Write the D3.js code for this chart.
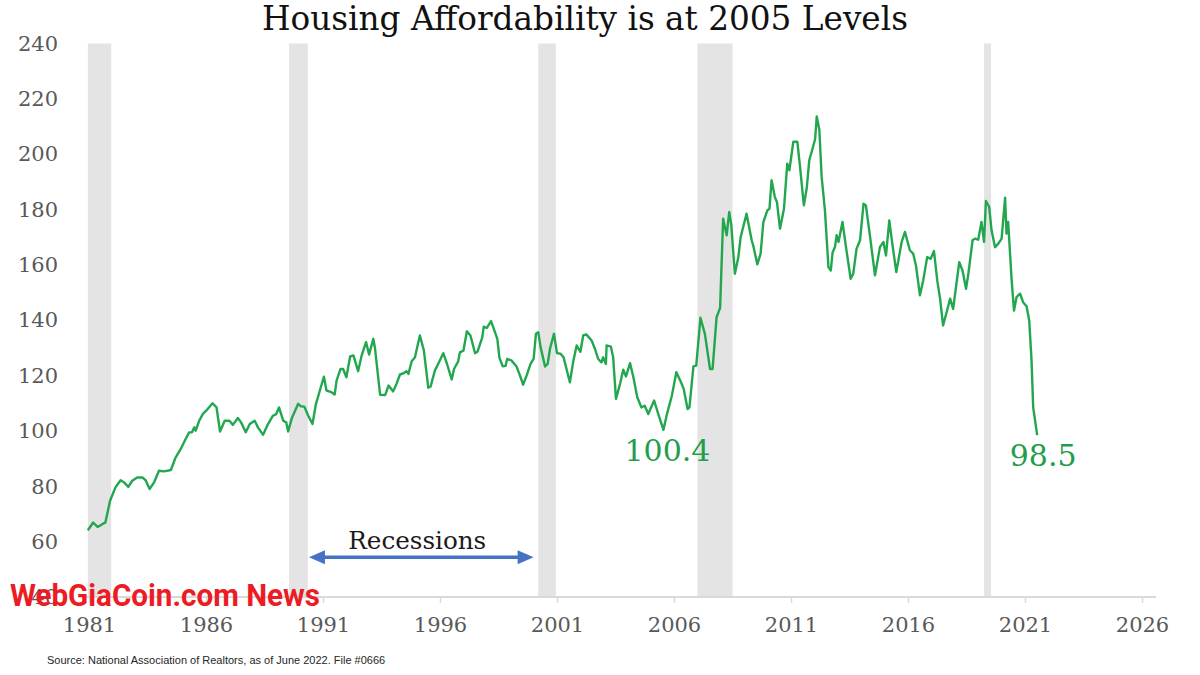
<!DOCTYPE html>
<html>
<head>
<meta charset="utf-8">
<script src="https://cdn.jsdelivr.net/npm/d3@7"></script>
<style>
  html, body { margin: 0; padding: 0; background: #fff; }
  svg { display: block; }
</style>
</head>
<body>
<svg id="chart" width="1200" height="675"></svg>
<script>
// ---------- DATA ----------
const title = "Housing Affordability is at 2005 Levels";
const sourceNote = "Source: National Association of Realtors, as of June 2022. File #0666";
const watermark = "WebGiaCoin.com News";

const yTicks = [40, 60, 80, 100, 120, 140, 160, 180, 200, 220, 240];
const xTicks = [1981, 1986, 1991, 1996, 2001, 2006, 2011, 2016, 2021, 2026];

// recession shading [start, end] in axis-year units (as drawn)
const recessions = [[1980.95, 1981.95], [1989.55, 1990.35], [2000.2, 2000.95], [2007.0, 2008.5], [2019.25, 2019.55]];

// Housing affordability index
const dates = [
 1980.95,1981.18,1981.37,1981.6,1981.7,1981.9,1982.13,1982.35,1982.5,1982.68,1982.85,1983.06,1983.28,1983.42,1983.59,1983.78,1983.99,
 1984.21,1984.5,1984.7,1984.92,1985.13,1985.28,1985.4,1985.5,1985.56,1985.71,1985.86,1986.07,1986.28,1986.45,1986.6,1986.8,1987.0,
 1987.15,1987.36,1987.5,1987.7,1987.87,1988.08,1988.22,1988.44,1988.65,1988.86,1989.0,1989.12,1989.3,1989.43,1989.51,1989.68,1989.94,
 1990.06,1990.2,1990.37,1990.55,1990.7,1990.9,1991.04,1991.15,1991.36,1991.5,1991.58,1991.75,1991.86,1992.0,1992.16,1992.3,1992.5,
 1992.65,1992.84,1992.97,1993.15,1993.22,1993.44,1993.66,1993.8,1994.0,1994.14,1994.29,1994.43,1994.57,1994.65,1994.79,1994.93,
 1995.14,1995.31,1995.5,1995.6,1995.78,1995.92,1996.14,1996.3,1996.5,1996.6,1996.78,1996.85,1997.0,1997.15,1997.3,1997.5,1997.6,
 1997.8,1997.87,1998.0,1998.18,1998.3,1998.45,1998.54,1998.68,1998.8,1998.87,1999.05,1999.27,1999.42,1999.55,1999.7,1999.87,2000.0,
 2000.1,2000.2,2000.3,2000.49,2000.6,2000.7,2000.87,2001.0,2001.15,2001.28,2001.55,2001.7,2001.84,2002.0,2002.12,2002.25,2002.48,
 2002.62,2002.76,2002.9,2002.97,2003.09,2003.12,2003.3,2003.4,2003.52,2003.7,2003.83,2003.95,2004.12,2004.26,2004.43,2004.61,2004.75,
 2004.9,2005.15,2005.33,2005.55,2005.7,2005.91,2006.1,2006.3,2006.42,2006.58,2006.66,2006.83,2006.95,2007.13,2007.32,2007.54,2007.65,
 2007.82,2007.97,2008.1,2008.25,2008.36,2008.45,2008.6,2008.75,2008.85,2009.1,2009.32,2009.4,2009.56,2009.7,2009.82,2009.99,2010.08,
 2010.17,2010.31,2010.4,2010.53,2010.7,2010.84,2010.93,2011.1,2011.27,2011.38,2011.55,2011.67,2011.78,2011.88,2012.03,2012.1,2012.21,
 2012.31,2012.45,2012.6,2012.7,2012.78,2012.88,2012.95,2013.03,2013.2,2013.35,2013.55,2013.66,2013.8,2013.95,2014.1,2014.2,2014.38,
 2014.59,2014.8,2014.95,2015.06,2015.2,2015.3,2015.5,2015.73,2015.87,2016.08,2016.22,2016.34,2016.51,2016.65,2016.82,2016.97,2017.11,
 2017.25,2017.37,2017.5,2017.67,2017.8,2017.93,2018.19,2018.33,2018.48,2018.58,2018.76,2018.86,2019.0,2019.14,2019.25,2019.33,2019.47,
 2019.57,2019.72,2019.86,2020.0,2020.15,2020.21,2020.28,2020.43,2020.53,2020.64,2020.79,2020.92,2021.07,2021.18,2021.28,2021.35,2021.52
];
const values = [
 64.1,66.9,65.3,66.5,66.9,74.8,79.6,82.2,81.4,79.8,82.0,83.2,83.2,82.2,79.0,81.4,85.6,
 85.4,85.9,90.4,93.5,97.1,99.5,99.5,101.3,100.1,103.7,106.1,107.9,110.0,108.5,99.8,103.7,103.7,
 102.2,104.7,103.1,99.5,102.5,103.7,101.3,98.6,102.5,105.5,106.1,108.5,103.7,103.1,99.8,104.9,109.8,
 108.9,108.8,105.5,102.5,109.8,115.6,119.6,114.6,114.0,113.2,118.2,122.4,122.4,119.4,126.9,127.3,121.6,
 127.2,132.1,127.6,133.3,130.0,113.1,113.0,116.4,114.3,117.0,120.4,120.8,121.6,120.6,125.2,126.6,
 134.5,129.1,115.6,116.1,121.8,124.2,128.1,124.2,118.6,122.4,125.2,128.4,129.0,136.0,134.5,128.1,128.6,
 133.6,137.7,137.2,139.7,136.9,133.3,126.4,123.4,123.5,126.0,125.5,123.3,120.0,116.7,120.0,124.2,126.0,
 135.1,135.7,130.2,123.3,124.2,129.7,135.1,128.1,127.9,126.6,117.6,125.4,130.9,128.6,134.5,134.9,132.7,
 129.7,126.0,124.8,126.6,124.2,130.9,130.5,126.6,111.6,117.2,122.1,119.7,124.5,119.6,112.2,108.5,109.1,
 106.1,111.0,106.1,100.4,106.1,112.8,121.2,117.6,115.0,107.9,108.5,123.3,123.6,140.9,135.1,122.4,122.4,
 141.1,144.5,176.7,170.7,179.1,174.3,156.8,162.8,170.1,178.5,168.9,166.5,160.2,164.0,175.5,179.7,180.3,
 190.6,184.5,182.7,173.1,180.3,196.6,194.2,204.5,204.5,196.0,181.5,187.6,197.8,200.8,205.4,213.6,208.9,
 191.8,179.7,159.2,158.0,164.6,166.5,170.7,168.3,175.5,166.4,155.0,156.8,165.8,168.9,182.1,181.5,170.1,
 156.2,166.4,168.3,163.4,176.1,169.5,157.4,168.3,171.9,165.3,164.1,159.8,149.0,154.4,162.8,162.2,165.0,
 154.4,147.8,138.1,143.5,147.8,144.1,161.0,158.0,151.4,156.8,168.9,169.5,169.1,175.5,168.3,183.1,181.0,
 172.5,166.4,167.7,169.5,184.3,171.3,175.5,154.4,143.5,148.4,149.6,146.5,145.0,139.9,125.4,108.5,98.5
];

// callouts: [year, value, text]
const callouts = [[2005.55, 100.4, "100.4"], [2021.52, 98.5, "98.5"]];
const recessionNote = {text: "Recessions", from: 1990.4, to: 2000.0, level: 54.4};

// ---------- CHART ----------
const svg = d3.select("#chart");
const serif = "'DejaVu Serif', 'Liberation Serif', serif";
const green = "#22a74f";

const x = d3.scaleLinear().domain([1981, 2026]).range([89, 1142]);
const y = d3.scaleLinear().domain([40, 240]).range([597, 43.5]);

function fitWidth(sel, target) {
  const w = sel.node().getComputedTextLength();
  const fs = parseFloat(sel.attr("font-size"));
  sel.attr("font-size", (fs * target / w).toFixed(2));
}

// recession bars
svg.append("g").selectAll("rect").data(recessions).join("rect")
  .attr("x", d => x(d[0]))
  .attr("width", d => x(d[1]) - x(d[0]))
  .attr("y", y(240))
  .attr("height", y(40) - y(240))
  .attr("fill", "#e4e4e4");

// x axis
const xAxis = svg.append("g")
  .attr("transform", `translate(0,${y(40)})`)
  .call(d3.axisBottom(x).tickValues(xTicks).tickFormat(d3.format("d")).tickSize(6).tickPadding(14));
xAxis.select(".domain").attr("d", `M${x(1980.9)},0H1156`).attr("stroke", "#d9d9d9").attr("stroke-width", 2);
xAxis.selectAll(".tick line").attr("stroke", "#d9d9d9").attr("stroke-width", 1.5);
xAxis.selectAll(".tick text").attr("font-family", serif).attr("font-size", 21).attr("fill", "#595959");

// y axis (labels only)
const yAxis = svg.append("g")
  .attr("transform", `translate(58,0)`)
  .call(d3.axisLeft(y).tickValues(yTicks).tickSize(0).tickPadding(0));
yAxis.select(".domain").remove();
yAxis.selectAll(".tick text").attr("font-family", serif).attr("font-size", 21).attr("fill", "#595959");

// line
const line = d3.line().x((d, i) => x(dates[i])).y(d => y(d));
svg.append("path").datum(values)
  .attr("d", line)
  .attr("fill", "none")
  .attr("stroke", green)
  .attr("stroke-width", 2.4)
  .attr("stroke-linejoin", "round");

// callouts
svg.append("g").selectAll("text").data(callouts).join("text")
  .attr("x", d => d[2] === "100.4" ? x(d[0]) + 4 : x(d[0]) + 6)
  .attr("y", d => y(d[1]) + 31)
  .attr("text-anchor", "middle")
  .attr("font-family", serif)
  .attr("font-size", 30)
  .attr("fill", "#1f9e4b")
  .text(d => d[2]);

// recession note
const ay = y(recessionNote.level);
const x1 = x(recessionNote.from), x2 = x(recessionNote.to);
const blue = "#4472c4";
svg.append("line").attr("x1", x1 + 10).attr("x2", x2 - 10).attr("y1", ay).attr("y2", ay)
  .attr("stroke", blue).attr("stroke-width", 3.5);
svg.append("path").attr("d", `M${x1},${ay}L${x1 + 16},${ay - 7}L${x1 + 16},${ay + 7}Z`).attr("fill", blue);
svg.append("path").attr("d", `M${x2},${ay}L${x2 - 16},${ay - 7}L${x2 - 16},${ay + 7}Z`).attr("fill", blue);
const rt = svg.append("text")
  .attr("x", (x1 + x2) / 2 - 4).attr("y", ay - 8)
  .attr("text-anchor", "middle")
  .attr("font-family", serif).attr("font-size", 21).attr("fill", "#1a1a1a")
  .text(recessionNote.text);
fitWidth(rt, 138);

// title
const tt = svg.append("text")
  .attr("x", 585).attr("y", 30)
  .attr("text-anchor", "middle")
  .attr("font-family", serif).attr("font-size", 27).attr("fill", "#111")
  .text(title);
fitWidth(tt, 646);

// source
svg.append("text")
  .attr("x", 47).attr("y", 664)
  .attr("font-family", "'Liberation Sans', Arial, sans-serif").attr("font-size", 11).attr("fill", "#262626")
  .text(sourceNote);

// watermark
svg.append("text")
  .attr("x", 10).attr("y", 606)
  .attr("font-family", "'Liberation Sans Narrow', 'Roboto', sans-serif").attr("font-weight", "bold")
  .attr("font-size", 31).attr("fill", "#ec1c24")
  .attr("textLength", 310).attr("lengthAdjust", "spacingAndGlyphs")
  .text(watermark);
</script>
</body>
</html>
